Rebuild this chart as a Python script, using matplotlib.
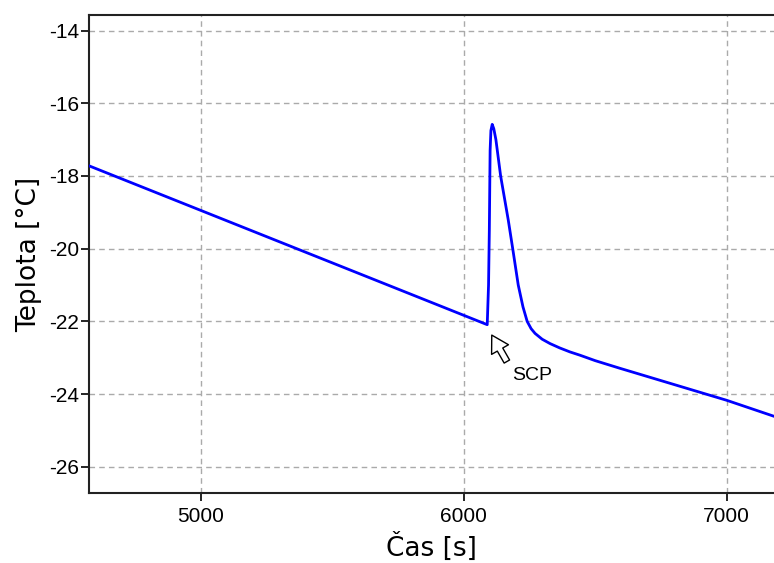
import matplotlib.pyplot as plt

plt.rcParams['axes.unicode_minus'] = False

# temperature record (s, degC)
time_s = [4574, 6089, 6094, 6097, 6100, 6103, 6108, 6114, 6122, 6140, 6169,
          6186, 6207, 6225, 6241, 6256, 6271, 6298, 6328, 6365, 6404, 6442,
          6500, 6594, 7000, 7180]
temp_c = [-17.72, -22.09, -21.0, -19.5, -17.3, -16.75, -16.58, -16.7, -17.0,
          -18.0, -19.21, -20.0, -21.0, -21.6, -22.0, -22.2, -22.33, -22.49,
          -22.61, -22.73, -22.84, -22.93, -23.08, -23.29, -24.17, -24.61]

x_ticks = [5000, 6000, 7000]
y_ticks = [-26, -24, -22, -20, -18, -16, -14]
scp_point = (6089, -22.09)

fig = plt.figure(figsize=(7.74, 5.63), dpi=100)
ax = fig.add_axes([89/774, 70/563, 685/774, 477.7/563])

ax.plot(time_s, temp_c, color='#0000ff', lw=2, zorder=3,
        solid_joinstyle='round')

ax.set_xlim(4574, 7180)
ax.set_ylim(-26.72, -13.58)
ax.set_xticks(x_ticks)
ax.set_yticks(y_ticks)
ax.grid(True, ls=(0, (4, 3)), color='#aaaaaa', lw=1)

for side in ['left', 'bottom', 'top']:
    ax.spines[side].set_linewidth(1.5)
    ax.spines[side].set_color('#222222')
ax.spines['right'].set_visible(False)
ax.tick_params(axis='x', length=6, width=1.2, labelsize=15, pad=4)
ax.tick_params(axis='y', length=6, width=1.2, labelsize=15, pad=1)
for lab in ax.get_xticklabels() + ax.get_yticklabels():
    lab.set_family('Liberation Sans')

ax.set_xlabel('Čas [s]', fontsize=19, family='DejaVu Sans', labelpad=5)
ax.set_ylabel('Teplota [°C]', fontsize=19, family='DejaVu Sans', labelpad=5)

# hollow arrow pointing at the supercooling point
ax.annotate('', xy=(scp_point[0] + 12, scp_point[1] - 0.22),
            xytext=(scp_point[0] + 80, scp_point[1] - 1.08),
            arrowprops=dict(arrowstyle='simple,head_length=1.2,head_width=1.4,tail_width=0.45',
                            fc='white', ec='black', lw=1))
ax.text(6258, -23.49, 'SCP', fontsize=14,
        family='Liberation Sans', ha='center', va='center')

fig.savefig('out.png', dpi=100)
